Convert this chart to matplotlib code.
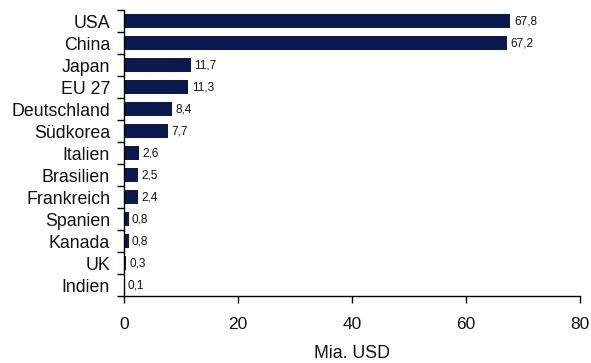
import matplotlib
matplotlib.use("Agg")
import matplotlib.pyplot as plt
import numpy as np

countries = ["USA", "China", "Japan", "EU 27", "Deutschland", "Südkorea", "Italien",
             "Brasilien", "Frankreich", "Spanien", "Kanada", "UK", "Indien"]
values = [67.8, 67.2, 11.7, 11.3, 8.4, 7.7, 2.6, 2.5, 2.4, 0.8, 0.8, 0.3, 0.1]
xticks = [0, 20, 40, 60, 80]

plt.rcParams['font.family'] = ['Liberation Sans', 'DejaVu Sans']

fig = plt.figure(figsize=(5.91, 3.63), dpi=100)
ax = fig.add_axes([124/591, 1-296/363, (580-124)/591, (296-10)/363])

y = np.arange(len(countries))
ax.barh(y, values, height=0.6, color="#0b1a4e")
for yi, v in zip(y, values):
    ax.text(v + 0.6, yi, f"{v:.1f}".replace(".", ","), va="center", ha="left",
            fontsize=8.5, color="#111111")

ax.set_ylim(len(countries) - 0.5, -0.5)
ax.set_xlim(0, 80)
ax.set_yticks(y)
ax.set_yticklabels(countries, fontsize=12.8, color="#111111")
ax.tick_params(axis="y", length=0, pad=10)
ax.set_yticks(np.arange(-0.5, len(countries)), minor=True)
ax.tick_params(axis="y", which="minor", length=5, width=1, direction="out")
ax.set_xticks(xticks)
ax.set_xticklabels([str(t) for t in xticks], fontsize=12.5, color="#111111")
ax.tick_params(axis="x", length=5, width=1, direction="out", pad=10.3)
ax.set_xlabel("Mia. USD", fontsize=12.8, labelpad=9, color="#111111")
for s in ["top", "right"]:
    ax.spines[s].set_visible(False)
for s in ["left", "bottom"]:
    ax.spines[s].set_linewidth(1)

fig.savefig("out.png", dpi=100)
